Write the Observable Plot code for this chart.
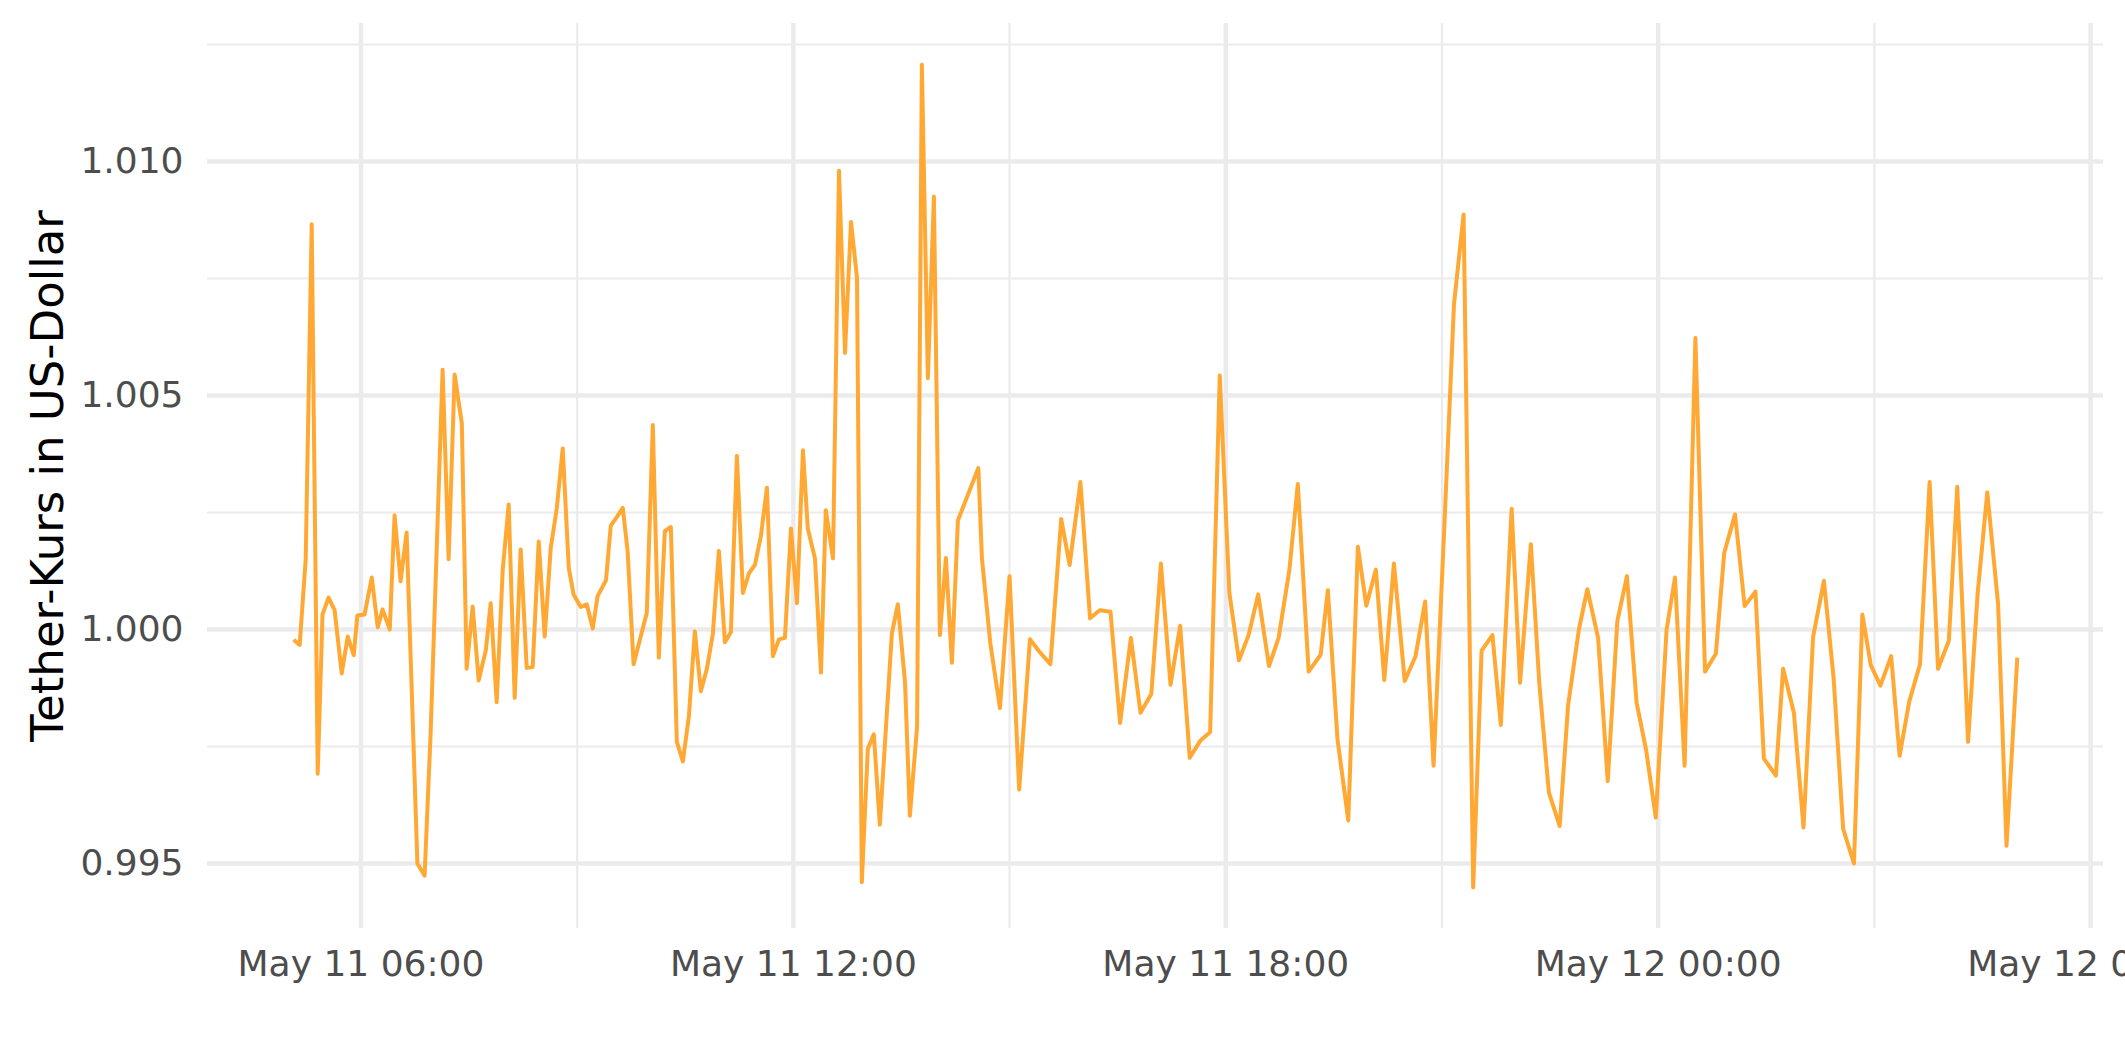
<!DOCTYPE html>
<html><head><meta charset="utf-8">
<script src="https://cdn.jsdelivr.net/npm/d3@7"></script>
<script src="https://cdn.jsdelivr.net/npm/@observablehq/plot@0.6"></script>
<style>
html,body{margin:0;padding:0;background:#fff;overflow:hidden;}
#chart svg{display:block;}
</style></head><body><div id="chart"></div>
<script>
// Zeitpunkte (Tag im Mai + Uhrzeit, UTC)
const times = [
"11T05:04","11T05:09","11T05:14","11T05:19","11T05:24","11T05:28","11T05:33","11T05:38","11T05:44","11T05:49",
"11T05:54","11T05:57","11T06:03","11T06:09","11T06:14","11T06:18","11T06:24","11T06:28","11T06:33","11T06:38",
"11T06:47","11T06:53","11T06:58","11T07:08","11T07:13","11T07:18","11T07:24","11T07:28","11T07:33","11T07:38",
"11T07:44","11T07:48","11T07:53","11T07:58","11T08:03","11T08:08","11T08:13","11T08:18","11T08:23","11T08:28",
"11T08:33","11T08:38","11T08:43","11T08:48","11T08:53","11T08:57","11T09:03","11T09:08","11T09:13","11T09:17",
"11T09:24","11T09:28","11T09:33","11T09:38","11T09:42","11T09:47","11T09:58","11T10:03","11T10:08","11T10:13",
"11T10:18","11T10:23","11T10:28","11T10:33","11T10:38","11T10:43","11T10:48","11T10:53","11T10:58","11T11:03",
"11T11:08","11T11:13","11T11:18","11T11:23","11T11:28","11T11:33","11T11:38","11T11:43","11T11:48","11T11:53",
"11T11:58","11T12:03","11T12:08","11T12:12","11T12:18","11T12:23","11T12:27","11T12:33","11T12:38","11T12:43",
"11T12:48","11T12:53","11T12:57","11T13:02","11T13:07","11T13:12","11T13:22","11T13:27","11T13:33","11T13:37",
"11T13:43","11T13:47","11T13:52","11T13:57","11T14:02","11T14:07","11T14:12","11T14:17","11T14:34","11T14:37",
"11T14:44","11T14:52","11T15:00","11T15:08","11T15:17","11T15:25","11T15:34","11T15:43","11T15:50","11T15:59",
"11T16:07","11T16:15","11T16:24","11T16:32","11T16:41","11T16:49","11T16:58","11T17:06","11T17:14","11T17:22",
"11T17:30","11T17:39","11T17:47","11T17:55","11T18:03","11T18:11","11T18:19","11T18:27","11T18:36","11T18:44",
"11T18:53","11T19:00","11T19:09","11T19:19","11T19:25","11T19:33","11T19:42","11T19:50","11T19:57","11T20:05",
"11T20:12","11T20:20","11T20:29","11T20:38","11T20:46","11T20:53","11T21:02","11T21:10","11T21:18","11T21:26",
"11T21:33","11T21:42","11T21:49","11T21:58","11T22:05","11T22:14","11T22:21","11T22:29","11T22:38","11T22:45",
"11T22:54","11T23:01","11T23:10","11T23:18","11T23:26","11T23:34","11T23:42","11T23:50","11T23:58","12T00:07",
"12T00:14","12T00:22","12T00:31","12T00:39","12T00:48","12T00:55","12T01:04","12T01:12","12T01:21","12T01:28",
"12T01:38","12T01:44","12T01:53","12T02:01","12T02:09","12T02:18","12T02:26","12T02:34","12T02:43","12T02:50",
"12T02:57","12T03:05","12T03:14","12T03:21","12T03:29","12T03:38","12T03:46","12T03:53","12T04:02","12T04:09",
"12T04:18","12T04:26","12T04:34","12T04:43","12T04:50","12T04:59"
];
// Tether-Kurs in US-Dollar
const prices = [
0.99978,0.99967,1.00150,1.00866,0.99692,1.00032,1.00068,1.00042,0.99906,0.99985,
0.99945,1.00030,1.00032,1.00111,1.00005,1.00043,1.00000,1.00244,1.00103,1.00207,
0.99500,0.99474,0.99778,1.00555,1.00150,1.00545,1.00440,0.99916,1.00049,0.99891,
0.99956,1.00056,0.99845,1.00126,1.00267,0.99854,1.00171,0.99918,0.99920,1.00188,
0.99985,1.00174,1.00258,1.00387,1.00132,1.00075,1.00048,1.00054,1.00002,1.00071,
1.00105,1.00222,1.00240,1.00260,1.00168,0.99926,1.00036,1.00437,0.99940,1.00210,
1.00219,0.99760,0.99718,0.99814,0.99996,0.99868,0.99916,0.99991,1.00168,0.99973,
0.99994,1.00371,1.00078,1.00120,1.00138,1.00200,1.00303,0.99943,0.99979,0.99982,
1.00216,1.00056,1.00383,1.00216,1.00152,0.99908,1.00255,1.00152,1.00980,1.00591,
1.00871,1.00751,0.99460,0.99745,0.99776,0.99583,0.99991,1.00054,0.99886,0.99602,
0.99792,1.01207,1.00537,1.00925,0.99988,1.00153,0.99929,1.00233,1.00345,1.00152,
0.99970,0.99832,1.00114,0.99658,0.99979,0.99952,0.99926,1.00236,1.00138,1.00315,
1.00024,1.00041,1.00038,0.99800,0.99982,0.99822,0.99862,1.00141,0.99882,1.00008,
0.99726,0.99763,0.99781,1.00543,1.00078,0.99934,0.99988,1.00075,0.99922,0.99982,
1.00128,1.00311,0.99910,0.99946,1.00084,0.99766,0.99592,1.00177,1.00051,1.00128,
0.99892,1.00141,0.99890,0.99943,1.00060,0.99709,1.00222,1.00695,1.00887,0.99449,
0.99955,0.99988,0.99796,1.00258,0.99886,1.00182,0.99886,0.99652,0.99580,0.99838,
1.00000,1.00086,0.99982,0.99676,1.00018,1.00114,0.99844,0.99742,0.99598,1.00000,
1.00111,0.99709,1.00623,0.99910,0.99948,1.00164,1.00246,1.00050,1.00081,0.99724,
0.99688,0.99916,0.99822,0.99577,0.99985,1.00104,0.99898,0.99574,0.99500,1.00032,
0.99924,0.99880,0.99943,0.99730,0.99846,0.99926,1.00315,0.99916,0.99976,1.00305,
0.99760,1.00078,1.00293,1.00054,0.99538,0.99940
];
const xMajorTicks = ["11T06:00","11T12:00","11T18:00","12T00:00","12T06:00"];
const xMinorTicks = ["11T09:00","11T15:00","11T21:00","12T03:00"];
const yMajorTicks = [0.995, 1.000, 1.005, 1.010];
const yMinorTicks = [0.9975, 1.0025, 1.0075, 1.0125];
const yTitle = "Tether-Kurs in US-Dollar";

const parseT = s => d3.utcParse("%Y-%m-%dT%H:%M")("2022-05-" + s);
const data = times.map((s, i) => ({t: parseT(s), v: prices[i]}));
const xMajor = xMajorTicks.map(parseT);
const xMinor = xMinorTicks.map(parseT);

// ggplot-like 5% expansion
const expand = ([a, b]) => { const p = (b - a) * 0.05; return [a - p, b + p]; };
const te = d3.extent(data, d => +d.t);
const xDom = expand(te).map(d => new Date(d));
const yDom = expand(d3.extent(data, d => d.v));

const grid = "#EBEBEB";
const chart = Plot.plot({
  width: 2125, height: 1062,
  marginTop: 23, marginBottom: 134, marginLeft: 207, marginRight: 22,
  style: {fontFamily: "'DejaVu Sans', sans-serif", background: "white"},
  x: {type: "utc", domain: xDom},
  y: {domain: yDom},
  marks: [
    Plot.gridX(xMinor, {stroke: grid, strokeOpacity: 1, strokeWidth: 2.2}),
    Plot.gridY(yMinorTicks, {stroke: grid, strokeOpacity: 1, strokeWidth: 2.2}),
    Plot.gridX(xMajor, {stroke: grid, strokeOpacity: 1, strokeWidth: 4.4}),
    Plot.gridY(yMajorTicks, {stroke: grid, strokeOpacity: 1, strokeWidth: 4.4}),
    Plot.axisX(xMajor, {tickSize: 0, tickPadding: 22, fontSize: 36, color: "#4D4D4D",
      tickFormat: d3.utcFormat("%b %d %H:%M"), label: null}),
    Plot.axisY(yMajorTicks, {tickSize: 0, tickPadding: 24, fontSize: 36, color: "#4D4D4D",
      tickFormat: d3.format(".3f"), label: null}),
    Plot.lineY(data, {x: "t", y: "v", stroke: "#FFA833", strokeWidth: 4,
      strokeLinecap: "butt", strokeLinejoin: "round"}),
    Plot.text([yTitle], {text: d => d, frameAnchor: "left", textAnchor: "middle",
      rotate: -90, dx: -159, fontSize: 45, fill: "black"})
  ]
});
document.getElementById("chart").appendChild(chart);
</script>
</body></html>
